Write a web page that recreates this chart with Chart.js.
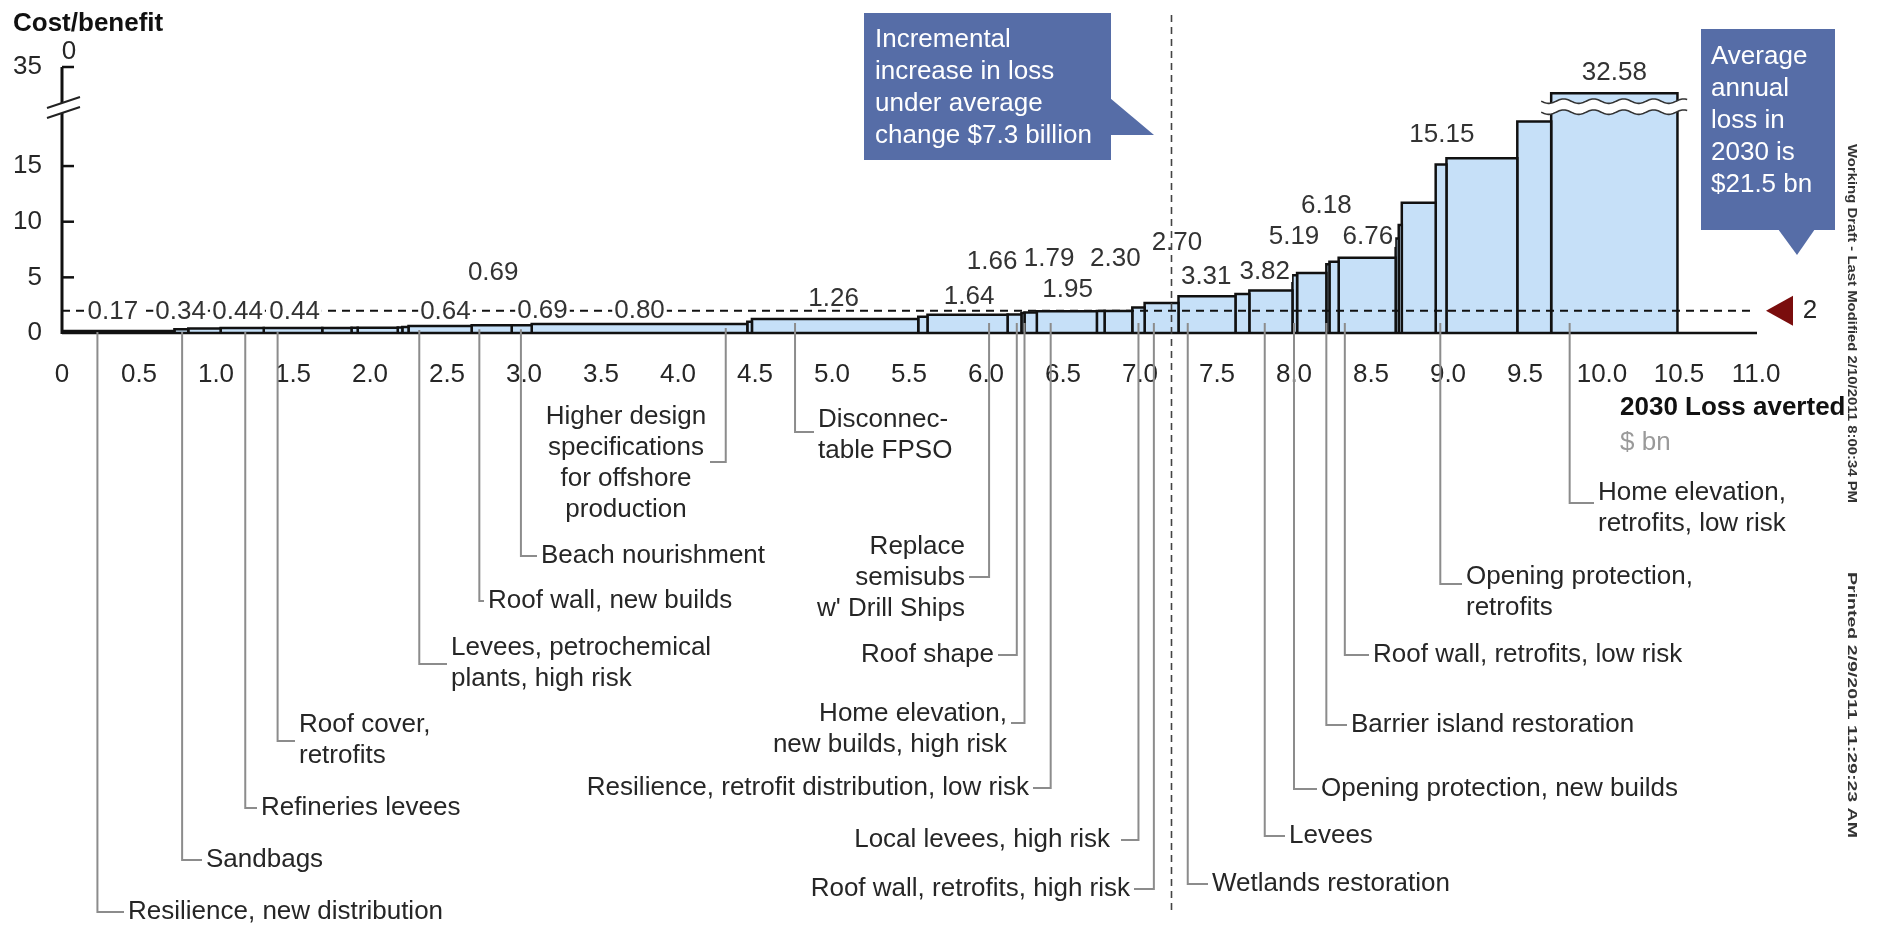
<!DOCTYPE html>
<html>
<head>
<meta charset="utf-8">
<title>Cost/benefit curve, 2030 loss averted</title>
<script src="https://cdn.jsdelivr.net/npm/chart.js@4/dist/chart.umd.min.js"></script>
<style>
  html, body { margin: 0; padding: 0; background: #fff; }
  #wrap { width: 1877px; height: 928px; position: relative; }
</style>
</head>
<body>
<div id="wrap"><canvas id="costCurve"></canvas></div>
<script>
// loss averted by each measure, $ bn (bar widths, in curve order)
const lossAverted = [
  0.73, 0.09, 0.21, 0.28, 0.38, 0.19, 0.04, 0.26, 0.03, 0.04,
  0.41, 0.26, 0.13, 1.40, 0.03, 1.08, 0.06, 0.52, 0.09, 0.02,
  0.08, 0.39, 0.05, 0.18, 0.08, 0.22, 0.37, 0.09, 0.28, 0.03,
  0.19, 0.02, 0.06, 0.37, 0.02, 0.02, 0.22, 0.07, 0.46, 0.22,
  0.82
];
// cost/benefit ratio of each measure (bar heights)
const costBenefit = [
  0.17, 0.34, 0.40, 0.44, 0.44, 0.46, 0.48, 0.48, 0.50, 0.55,
  0.64, 0.69, 0.69, 0.80, 1.00, 1.26, 1.45, 1.64, 1.66, 1.79,
  1.85, 1.95, 1.97, 1.98, 2.30, 2.70, 3.31, 3.50, 3.82, 5.19,
  5.40, 6.18, 6.40, 6.76, 8.50, 9.70, 11.70, 15.15, 15.70, 19.00,
  32.58
];
const measures = [
  'Resilience, new distribution', 'Sandbags', '', 'Refineries levees', 'Roof cover,\nretrofits',
  '', '', '', '', '',
  'Levees, petrochemical\nplants, high risk', 'Roof wall, new builds', 'Beach nourishment',
  'Higher design\nspecifications\nfor offshore\nproduction', '',
  'Disconnec-\ntable FPSO', '', 'Replace\nsemisubs\nw\' Drill Ships', 'Roof shape',
  'Home elevation,\nnew builds, high risk',
  '', 'Resilience, retrofit distribution, low risk', '', '', 'Local levees, high risk',
  'Roof wall, retrofits, high risk', 'Wetlands restoration', '', 'Levees', 'Opening protection, new builds',
  '', 'Barrier island restoration', '', 'Roof wall, retrofits, low risk', '',
  '', '', 'Opening protection,\nretrofits', '', '',
  'Home elevation,\nretrofits, low risk'
];
const xTicks = [0, 0.5, 1, 1.5, 2, 2.5, 3, 3.5, 4, 4.5, 5, 5.5, 6, 6.5, 7, 7.5, 8, 8.5, 9, 9.5, 10, 10.5, 11];
const yTicks = [0, 5, 10, 15, 35];
const threshold = 2;          // cost/benefit cut-off
const changeMarker = 7.2;     // incremental loss under average change

// broken axis: values above Y_BREAK are cut at Y_CAP, axis top is labelled 35
const Y_BREAK = 20;
const Y_CAP = 21.55;
const Y_TOP = 23.9;
const shown = v => (v > Y_BREAK ? Y_CAP : v);
const axisPos = t => (t > Y_BREAK ? Y_TOP : t);

const FONT = '"Liberation Sans", Arial, Helvetica, sans-serif';

// bar edges along the loss-averted axis
const edges = [0];
lossAverted.forEach(w => edges.push(edges[edges.length - 1] + w));

// where each value label sits: [bar, x, y]
const valueLabelAt = [
  [0, 0.33, 1.9], [1, 0.77, 1.9], [3, 1.14, 1.9], [4, 1.51, 1.9], [10, 2.49, 1.9],
  [11, 2.80, 5.4], [12, 3.12, 2.0], [13, 3.75, 2.0], [15, 5.01, 3.05], [17, 5.89, 3.23],
  [18, 6.04, 6.38], [19, 6.41, 6.65], [21, 6.53, 3.86], [24, 6.84, 6.65], [25, 7.24, 8.09],
  [26, 7.43, 5.03], [28, 7.81, 5.48], [29, 8.00, 8.63], [31, 8.21, 11.41], [33, 8.48, 8.63],
  [37, 8.96, 17.79], [40, 10.08, 23.36]
];

// name callouts under the axis
const callouts = [
  { bar: 0,  at: 0.23, align: 'left',   tx: 128,  ty: 912, hook: 912 },
  { bar: 1,  at: 0.78, align: 'left',   tx: 206,  ty: 860, hook: 860 },
  { bar: 3,  at: 1.19, align: 'left',   tx: 261,  ty: 808, hook: 808 },
  { bar: 4,  at: 1.40, align: 'left',   tx: 299,  ty: 725, hook: 741 },
  { bar: 10, at: 2.32, align: 'left',   tx: 451,  ty: 648, hook: 664 },
  { bar: 11, at: 2.71, align: 'left',   tx: 488,  ty: 601, hook: 601 },
  { bar: 12, at: 2.98, align: 'left',   tx: 541,  ty: 556, hook: 556 },
  { bar: 13, at: 4.31, align: 'center', tx: 626,  ty: 417, hook: 462, hookEnd: 710 },
  { bar: 15, at: 4.76, align: 'left',   tx: 818,  ty: 420, hook: 432 },
  { bar: 17, at: 6.02, align: 'right',  tx: 965,  ty: 547, hook: 577 },
  { bar: 18, at: 6.20, align: 'right',  tx: 994,  ty: 655, hook: 655 },
  { bar: 19, at: 6.25, align: 'right',  tx: 1007, ty: 714, hook: 723 },
  { bar: 21, at: 6.42, align: 'right',  tx: 1029, ty: 788, hook: 788 },
  { bar: 24, at: 6.99, align: 'right',  tx: 1110, ty: 840, hook: 840, gap: 11 },
  { bar: 25, at: 7.09, align: 'right',  tx: 1130, ty: 889, hook: 889 },
  { bar: 26, at: 7.31, align: 'left',   tx: 1212, ty: 884, hook: 884 },
  { bar: 28, at: 7.81, align: 'left',   tx: 1289, ty: 836, hook: 836 },
  { bar: 29, at: 8.00, align: 'left',   tx: 1321, ty: 789, hook: 789 },
  { bar: 31, at: 8.21, align: 'left',   tx: 1351, ty: 725, hook: 725 },
  { bar: 33, at: 8.33, align: 'left',   tx: 1373, ty: 655, hook: 655 },
  { bar: 37, at: 8.95, align: 'left',   tx: 1466, ty: 577, hook: 584 },
  { bar: 40, at: 9.79, align: 'left',   tx: 1598, ty: 493, hook: 503 }
];

// one closed rectangle per measure
const barSets = costBenefit.map((v, i) => ({
  data: [
    { x: edges[i], y: 0 }, { x: edges[i], y: shown(v) },
    { x: edges[i + 1], y: shown(v) }, { x: edges[i + 1], y: 0 }
  ],
  showLine: true,
  fill: 'origin',
  backgroundColor: '#c6e0f8',
  borderColor: '#111',
  borderWidth: 2.5,
  borderJoinStyle: 'miter',
  pointRadius: 0,
  order: 1
}));

const thresholdSet = {
  data: [{ x: 0, y: threshold }, { x: 11, y: threshold }],
  showLine: true,
  fill: false,
  borderColor: '#111',
  borderWidth: 2,
  borderDash: [8, 6],
  pointRadius: 0,
  order: 0
};

function wave(ctx, x0, x1, yc, back) {
  const amp = 2.2, period = 30;
  const f = px => yc + amp * Math.sin((px - x0) / period * 2 * Math.PI);
  if (!back) {
    for (let px = x0; px <= x1; px++) ctx.lineTo(px, f(px));
  } else {
    for (let px = x1; px >= x0; px--) ctx.lineTo(px, f(px));
  }
}

const decor = {
  id: 'decor',
  afterDatasetsDraw(chart) {
    const { ctx, scales: { x, y } } = chart;
    const X = v => x.getPixelForValue(v);
    const Y = v => y.getPixelForValue(v);
    const x0 = X(0), y0 = Y(0);
    ctx.save();
    ctx.textBaseline = 'middle';

    // cut marks on bars that run off the scale
    costBenefit.forEach((v, i) => {
      if (v <= Y_BREAK) return;
      const a = X(edges[i]) - 10, b = X(edges[i + 1]) + 10, top = Y(Y_CAP);
      ctx.beginPath();
      ctx.moveTo(a, top + 8);
      wave(ctx, a, b, top + 8, false);
      wave(ctx, a, b, top + 19, true);
      ctx.closePath();
      ctx.fillStyle = '#fff';
      ctx.fill();
      ctx.strokeStyle = '#333';
      ctx.lineWidth = 1.6;
      [8, 19].forEach(off => {
        ctx.beginPath();
        ctx.moveTo(a, top + off);
        wave(ctx, a, b, top + off, false);
        ctx.stroke();
      });
    });

    // baseline and y axis
    ctx.strokeStyle = '#111';
    ctx.lineWidth = 2.5;
    ctx.beginPath();
    ctx.moveTo(x0, y0);
    ctx.lineTo(X(11) + 1, y0);
    ctx.stroke();
    ctx.lineWidth = 3;
    ctx.beginPath();
    ctx.moveTo(x0, y0 + 1);
    ctx.lineTo(x0, Y(Y_TOP));
    ctx.stroke();
    ctx.font = `26px ${FONT}`;
    ctx.fillStyle = '#262626';
    ctx.textAlign = 'right';
    yTicks.forEach(t => {
      const py = Y(axisPos(t));
      if (t !== 0) {
        ctx.lineWidth = 2.5;
        ctx.beginPath();
        ctx.moveTo(x0, py);
        ctx.lineTo(x0 + 12, py);
        ctx.stroke();
      }
      ctx.fillText(String(t), x0 - 20, py);
    });
    ctx.textAlign = 'center';
    ctx.fillText('0', x0 + 7, Y(Y_TOP) - 15);
    // axis break
    ctx.fillStyle = '#fff';
    ctx.beginPath();
    ctx.moveTo(x0 - 15, 108); ctx.lineTo(x0 + 18, 97);
    ctx.lineTo(x0 + 18, 107); ctx.lineTo(x0 - 15, 118);
    ctx.closePath();
    ctx.fill();
    ctx.lineWidth = 2;
    ctx.strokeStyle = '#222';
    ctx.beginPath();
    ctx.moveTo(x0 - 15, 108); ctx.lineTo(x0 + 18, 97);
    ctx.moveTo(x0 - 15, 118); ctx.lineTo(x0 + 18, 107);
    ctx.stroke();

    // x tick labels
    ctx.fillStyle = '#262626';
    xTicks.forEach(t => {
      ctx.fillText(t === 0 ? '0' : t.toFixed(1), X(t), y0 + 42);
    });

    // value labels, knocked out of the threshold line
    valueLabelAt.forEach(([i, lx, ly]) => {
      const txt = costBenefit[i].toFixed(2);
      const px = X(lx), py = Y(ly);
      const w = ctx.measureText(txt).width;
      ctx.fillStyle = '#fff';
      ctx.fillRect(px - w / 2 - 2, py - 10, w + 4, 20);
      ctx.fillStyle = '#333';
      ctx.fillText(txt, px, py);
    });

    // name callouts with leader lines
    callouts.forEach(c => {
      const lx = X(c.at);
      const top = Math.min(y0 - 1, Math.max(Y(shown(costBenefit[c.bar])) + 4, 323));
      let hx;
      if (c.align === 'left') hx = c.tx - 4;
      else if (c.align === 'right') hx = c.tx + (c.gap || 4);
      else hx = c.hookEnd;
      ctx.strokeStyle = '#8c8c8c';
      ctx.lineWidth = 2;
      ctx.beginPath();
      ctx.moveTo(lx, top);
      ctx.lineTo(lx, c.hook);
      ctx.lineTo(hx, c.hook);
      ctx.stroke();
      ctx.fillStyle = '#262626';
      ctx.textAlign = c.align;
      measures[c.bar].split('\n').forEach((line, k) => ctx.fillText(line, c.tx, c.ty + k * 31));
    });

    // threshold marker
    const ty = Y(threshold), xr = X(11);
    ctx.fillStyle = '#7a0d0d';
    ctx.beginPath();
    ctx.moveTo(xr + 10, ty);
    ctx.lineTo(xr + 37, ty - 15);
    ctx.lineTo(xr + 37, ty + 15);
    ctx.closePath();
    ctx.fill();
    ctx.fillStyle = '#262626';
    ctx.textAlign = 'center';
    ctx.fillText(String(threshold), xr + 54, ty);

    // axis titles
    ctx.textAlign = 'left';
    ctx.fillStyle = '#111';
    ctx.font = `bold 26px ${FONT}`;
    ctx.fillText('Cost/benefit', 13, 24);
    ctx.fillText('2030 Loss averted', 1620, 408);
    ctx.font = `26px ${FONT}`;
    ctx.fillStyle = '#9a9a9a';
    ctx.fillText('$ bn', 1620, 443);

    // average-change marker
    const mx = Math.round(X(changeMarker)) + 0.5;
    ctx.strokeStyle = '#444';
    ctx.lineWidth = 1.6;
    ctx.setLineDash([7, 5]);
    ctx.beginPath();
    ctx.moveTo(mx, 15);
    ctx.lineTo(mx, 913);
    ctx.stroke();
    ctx.setLineDash([]);

    // callout boxes
    ctx.fillStyle = '#566da7';
    ctx.fillRect(864, 13, 247, 147);
    ctx.beginPath();
    ctx.moveTo(1110, 98); ctx.lineTo(1154, 135); ctx.lineTo(1110, 135);
    ctx.closePath();
    ctx.fill();
    ctx.fillRect(1701, 29, 134, 201);
    ctx.beginPath();
    ctx.moveTo(1778, 229); ctx.lineTo(1815, 229); ctx.lineTo(1797, 255);
    ctx.closePath();
    ctx.fill();
    ctx.fillStyle = '#fff';
    ctx.font = `26px ${FONT}`;
    ['Incremental', 'increase in loss', 'under average', 'change $7.3 billion']
      .forEach((l, k) => ctx.fillText(l, 875, 40 + k * 32));
    ['Average', 'annual', 'loss in', '2030 is', '$21.5 bn']
      .forEach((l, k) => ctx.fillText(l, 1711, 57 + k * 32));

    // draft stamp, rotated
    ctx.fillStyle = '#333';
    ctx.font = `bold 13px ${FONT}`;
    [['Working Draft - Last Modified 2/10/2011 8:00:34 PM', 144, 359],
     ['Printed 2/9/2011 11:29:23 AM', 572, 266]].forEach(([s, top, len]) => {
      const w = ctx.measureText(s).width;
      ctx.save();
      ctx.translate(1852, top);
      ctx.rotate(Math.PI / 2);
      ctx.scale(len / w, 1);
      ctx.fillText(s, 0, 0);
      ctx.restore();
    });

    ctx.restore();
  }
};

new Chart(document.getElementById('costCurve').getContext('2d'), {
  type: 'scatter',
  data: { datasets: [thresholdSet, ...barSets] },
  options: {
    responsive: true,
    maintainAspectRatio: false,
    animation: false,
    events: [],
    layout: { padding: { left: 62, right: 121, top: 67, bottom: 595 } },
    elements: { line: { tension: 0 } },
    plugins: { legend: { display: false }, tooltip: { enabled: false } },
    scales: {
      x: { type: 'linear', min: 0, max: 11, display: false },
      y: { type: 'linear', min: 0, max: Y_TOP, display: false }
    }
  },
  plugins: [decor]
});
</script>
</body>
</html>
